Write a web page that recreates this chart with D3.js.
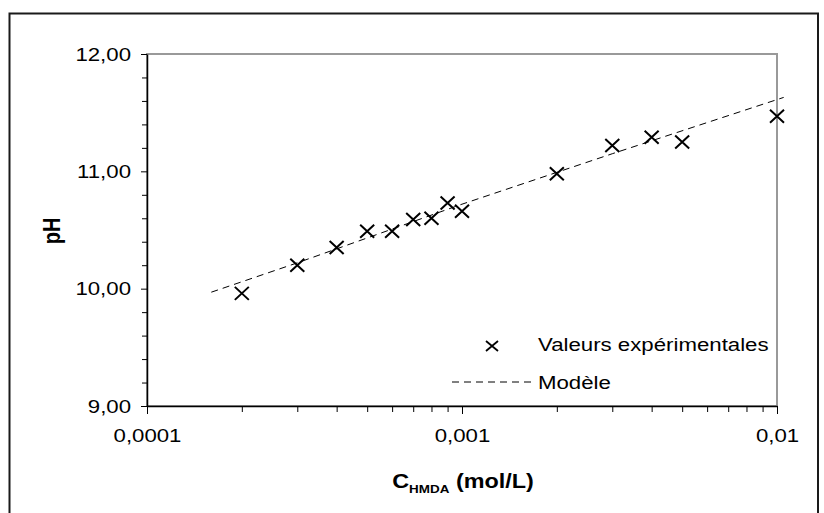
<!DOCTYPE html>
<html>
<head>
<meta charset="utf-8">
<script src="https://cdn.jsdelivr.net/npm/d3@7"></script>
<style>
  body { margin: 0; background: #fff; }
  text { font-family: "Liberation Sans", Arial, sans-serif; fill: #000; }
</style>
</head>
<body>
<svg id="chart" width="824" height="513"></svg>
<script>
// measured values
const conc = [0.0002, 0.0003, 0.0004, 0.0005, 0.0006, 0.0007, 0.0008, 0.0009, 0.001, 0.002, 0.003, 0.004, 0.005, 0.01]
const pH = [9.96, 10.20, 10.35, 10.49, 10.49, 10.59, 10.60, 10.73, 10.66, 10.98, 11.22, 11.29, 11.25, 11.47]

// model curve
const modelConc = [0.00016, 0.0003, 0.001, 0.003, 0.0105]
const modelPH = [9.97, 10.22, 10.72, 11.15, 11.63]

const yTicks = [9, 10, 11, 12]
const xTicks = [0.0001, 0.001, 0.01]
const legendLabels = ['Valeurs expérimentales', 'Modèle']

const sx = 1.17 // the picture is stretched sideways
const margin = {left: 147, right: 777, top: 54, bottom: 406}

const fr = d3.formatLocale({decimal: ',', thousands: ' ', grouping: [3], currency: ['', ' €']})

const svg = d3.select('#chart')

svg.append('rect')
  .attr('x', 9.5).attr('y', 13.5)
  .attr('width', 808.5).attr('height', 560)
  .attr('fill', 'none').attr('stroke', '#1a1a1a').attr('stroke-width', 2)

const x = d3.scaleLog().domain([0.0001, 0.01]).range([margin.left, margin.right])
const y = d3.scaleLinear().domain([9, 12]).range([margin.bottom, margin.top])

// plot area frame
svg.append('rect')
  .attr('x', margin.left).attr('y', margin.top)
  .attr('width', margin.right - margin.left).attr('height', margin.bottom - margin.top)
  .attr('fill', 'none').attr('stroke', '#999').attr('stroke-width', 2)

// minor ticks
const yMinor = d3.range(9.2, 12, 0.2).filter(v => Math.abs(v - Math.round(v)) > 0.01)
svg.append('g')
  .attr('transform', `translate(${margin.left},0)`)
  .call(d3.axisLeft(y).tickValues(yMinor).tickSize(5).tickFormat(''))
  .call(g => g.select('.domain').remove())

const xMinor = [2, 3, 4, 5, 6, 7, 8, 9].flatMap(k => [k * 0.0001, k * 0.001])
svg.append('g')
  .attr('transform', `translate(0,${margin.bottom})`)
  .call(d3.axisBottom(x).tickValues(xMinor).tickSize(6).tickFormat(''))
  .call(g => g.select('.domain').remove())

// main axes
const yAxis = svg.append('g')
  .attr('transform', `translate(${margin.left},0)`)
  .call(d3.axisLeft(y).tickValues(yTicks).tickSize(6).tickPadding(10).tickSizeOuter(0)
    .tickFormat(fr.format('.2f')))
yAxis.selectAll('text')
  .attr('x', null)
  .attr('transform', `translate(-16,0) scale(${sx},1)`)
  .style('font-size', '19px')

const xAxis = svg.append('g')
  .attr('transform', `translate(0,${margin.bottom})`)
  .call(d3.axisBottom(x).tickValues(xTicks).tickSize(8).tickPadding(14).tickSizeOuter(0)
    .tickFormat(fr.format('~g')))
xAxis.selectAll('text')
  .attr('y', null)
  .attr('transform', `translate(0,23) scale(${sx},1)`)
  .style('font-size', '19px')

svg.selectAll('.tick line').attr('stroke', '#000')
svg.selectAll('.domain').attr('stroke', '#000').attr('stroke-width', 1.5)
svg.selectAll('.tick text').attr('font-family', null)

// model
const line = d3.line()
  .x((d, i) => x(modelConc[i]))
  .y(d => y(d))

svg.append('path')
  .datum(modelPH)
  .attr('d', line)
  .attr('fill', 'none')
  .attr('stroke', '#000')
  .attr('stroke-width', 1)
  .attr('stroke-dasharray', '7,5')

// experimental points
const cross = 'M-7,-6.5L7,6.5M7,-6.5L-7,6.5'
svg.append('g')
  .selectAll('path')
  .data(pH)
  .join('path')
  .attr('transform', (d, i) => `translate(${x(conc[i])},${y(d)})`)
  .attr('d', cross)
  .attr('stroke', '#000')
  .attr('stroke-width', 2)
  .attr('fill', 'none')

// legend
const legend = svg.append('g')
legend.append('path')
  .attr('transform', 'translate(492,346)')
  .attr('d', 'M-6,-5L6,5M6,-5L-6,5')
  .attr('stroke', '#000').attr('stroke-width', 1.8)
legend.append('line')
  .attr('x1', 452).attr('x2', 532).attr('y1', 382).attr('y2', 382)
  .attr('stroke', '#000').attr('stroke-dasharray', '7,5')
legend.selectAll('text')
  .data(legendLabels)
  .join('text')
  .attr('transform', (d, i) => `translate(538,${351 + i * 38}) scale(1.27,1)`)
  .style('font-size', '17.5px')
  .text(d => d)

// axis titles
svg.append('text')
  .attr('transform', `translate(60,231) scale(${sx},1) rotate(-90)`)
  .attr('text-anchor', 'middle')
  .style('font-size', '20px')
  .style('font-weight', 'bold')
  .text('pH')

const xTitle = svg.append('text')
  .attr('transform', `translate(463,488) scale(${sx},1)`)
  .attr('text-anchor', 'middle')
  .style('font-size', '20px')
  .style('font-weight', 'bold')
xTitle.append('tspan').text('C')
xTitle.append('tspan').attr('dy', 5).style('font-size', '11.5px').text('HMDA')
xTitle.append('tspan').attr('dy', -5).text(' (mol/L)')
</script>
</body>
</html>
